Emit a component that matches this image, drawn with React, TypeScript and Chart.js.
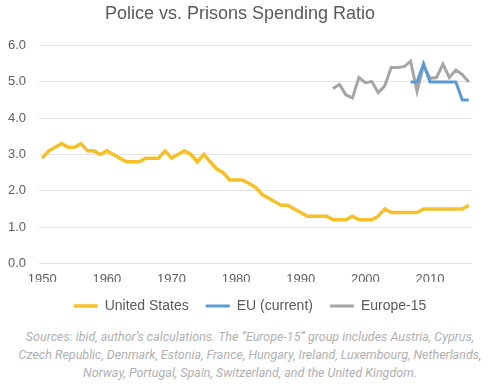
import React, { useEffect, useRef } from "react";
import { Chart, registerables } from "chart.js";

Chart.register(...registerables);

const usYears = [
  1950, 1951, 1952, 1953, 1954, 1955, 1956, 1957, 1958, 1959,
  1960, 1961, 1962, 1963, 1964, 1965, 1966, 1967, 1968, 1969,
  1970, 1971, 1972, 1973, 1974, 1975, 1976, 1977, 1978, 1979,
  1980, 1981, 1982, 1983, 1984, 1985, 1986, 1987, 1988, 1989,
  1990, 1991, 1992, 1993, 1994, 1995, 1996, 1997, 1998, 1999,
  2000, 2001, 2002, 2003, 2004, 2005, 2006, 2007, 2008, 2009,
  2010, 2011, 2012, 2013, 2014, 2015, 2016,
];
const usValues = [
  2.9, 3.1, 3.2, 3.3, 3.2, 3.2, 3.3, 3.1, 3.1, 3.0,
  3.1, 3.0, 2.9, 2.8, 2.8, 2.8, 2.9, 2.9, 2.9, 3.1,
  2.9, 3.0, 3.1, 3.0, 2.8, 3.0, 2.8, 2.6, 2.5, 2.3,
  2.3, 2.3, 2.2, 2.1, 1.9, 1.8, 1.7, 1.6, 1.6, 1.5,
  1.4, 1.3, 1.3, 1.3, 1.3, 1.2, 1.2, 1.2, 1.3, 1.2,
  1.2, 1.2, 1.3, 1.5, 1.4, 1.4, 1.4, 1.4, 1.4, 1.5,
  1.5, 1.5, 1.5, 1.5, 1.5, 1.5, 1.6,
];

const euYears = [2007, 2008, 2009, 2010, 2011, 2012, 2013, 2014, 2015, 2016];
const euValues = [5.0, 5.0, 5.5, 5.0, 5.0, 5.0, 5.0, 5.0, 4.5, 4.5];

const eu15Years = [
  1995, 1996, 1997, 1998, 1999, 2000, 2001, 2002, 2003, 2004, 2005,
  2006, 2007, 2008, 2009, 2010, 2011, 2012, 2013, 2014, 2015, 2016,
];
const eu15Values = [
  4.82, 4.93, 4.64, 4.56, 5.12, 4.98, 5.01, 4.7, 4.89, 5.4, 5.4,
  5.42, 5.57, 4.74, 5.45, 5.1, 5.12, 5.49, 5.12, 5.33, 5.2, 5.0,
];

const xTickYears = [1950, 1960, 1970, 1980, 1990, 2000, 2010];
const yTicks = [0, 1, 2, 3, 4, 5, 6];

const seriesNames = ["United States", "EU (current)", "Europe-15"];
const seriesColors = ["#F5C02A", "#5B9BD5", "#A5A5A5"];
const seriesWidths = [3.5, 3, 3];

const titleText = "Police vs. Prisons Spending Ratio";
const sourceLines = [
  "Sources: ibid, author\u2019s calculations. The \u201CEurope-15\u201D group includes Austria, Cyprus,",
  "Czech Republic, Denmark, Estonia, France, Hungary, Ireland, Luxembourg, Netherlands,",
  "Norway, Portugal, Spain, Switzerland, and the United Kingdom.",
];

const toPoints = (xs: number[], ys: number[]) => xs.map((x, i) => ({ x, y: ys[i] }));

const legendShift = {
  id: "legendShift",
  afterLayout(chart: any) {
    const lg = chart.legend;
    if (lg) {
      lg.left += 10;
      lg.right += 10;
    }
  },
};

export default function App() {
  const canvasRef = useRef<HTMLCanvasElement | null>(null);

  useEffect(() => {
    if (!canvasRef.current) return;
    const font = "'Liberation Sans', Arial, sans-serif";
    const chart = new Chart(canvasRef.current, {
      type: "line",
      plugins: [legendShift],
      data: {
        datasets: [
          { label: seriesNames[0], data: toPoints(usYears, usValues) },
          { label: seriesNames[1], data: toPoints(euYears, euValues) },
          { label: seriesNames[2], data: toPoints(eu15Years, eu15Values) },
        ].map((d, i) => ({
          ...d,
          borderColor: seriesColors[i],
          backgroundColor: seriesColors[i],
          borderWidth: seriesWidths[i],
          pointRadius: 0,
          tension: 0,
          fill: false,
        })),
      },
      options: {
        animation: false,
        responsive: true,
        maintainAspectRatio: false,
        layout: { padding: { left: 8, right: 28, top: 0, bottom: 0 } },
        plugins: {
          title: {
            display: true,
            text: titleText,
            color: "#595959",
            font: { family: font, size: 18, weight: "normal" },
            padding: { top: 3, bottom: 21 },
          },
          legend: {
            position: "bottom",
            labels: {
              usePointStyle: true,
              pointStyle: "line",
              pointStyleWidth: 24,
              color: "#595959",
              font: { family: font, size: 14 },
              padding: 17,
            },
          },
          tooltip: { enabled: false },
        },
        scales: {
          x: {
            type: "linear",
            min: 1949.5,
            max: 2016.5,
            afterBuildTicks: (scale: any) => {
              scale.ticks = xTickYears.map((v) => ({ value: v }));
            },
            afterFit: (scale: any) => {
              scale.paddingLeft = 0;
              scale.height -= 13;
            },
            grid: { display: false, drawTicks: false },
            border: { display: false },
            ticks: {
              color: "#606060",
              font: { family: font, size: 13 },
              maxRotation: 0,
              padding: 8,
              callback: (v: any) => String(v),
            },
          },
          y: {
            min: 0,
            max: 6,
            afterBuildTicks: (scale: any) => {
              scale.ticks = yTicks.map((v) => ({ value: v }));
            },
            afterFit: (scale: any) => {
              scale.width = 31;
            },
            grid: { color: "#e2e2e2", drawTicks: false, lineWidth: 1 },
            border: { display: false },
            ticks: {
              color: "#606060",
              font: { family: font, size: 13 },
              padding: 13,
              callback: (v: any) => Number(v).toFixed(1),
            },
          },
        },
      },
    });
    return () => chart.destroy();
  }, []);

  return (
    <div style={{ position: "absolute", left: 0, top: 0, width: 500, height: 385, background: "#fff" }}>
      <div style={{ position: "relative", width: 500, height: 323 }}>
        <canvas ref={canvasRef} />
      </div>
      <div
        style={{
          position: "absolute",
          top: 328,
          left: 0,
          width: 500,
          textAlign: "center",
          fontFamily: "Roboto, 'Open Sans', sans-serif",
          fontStyle: "italic",
          fontSize: 12.5,
          lineHeight: "18px",
          color: "#b0b0b0",
          whiteSpace: "nowrap",
        }}
      >
        {sourceLines.map((l, i) => (
          <div key={i}>{l}</div>
        ))}
      </div>
    </div>
  );
}
